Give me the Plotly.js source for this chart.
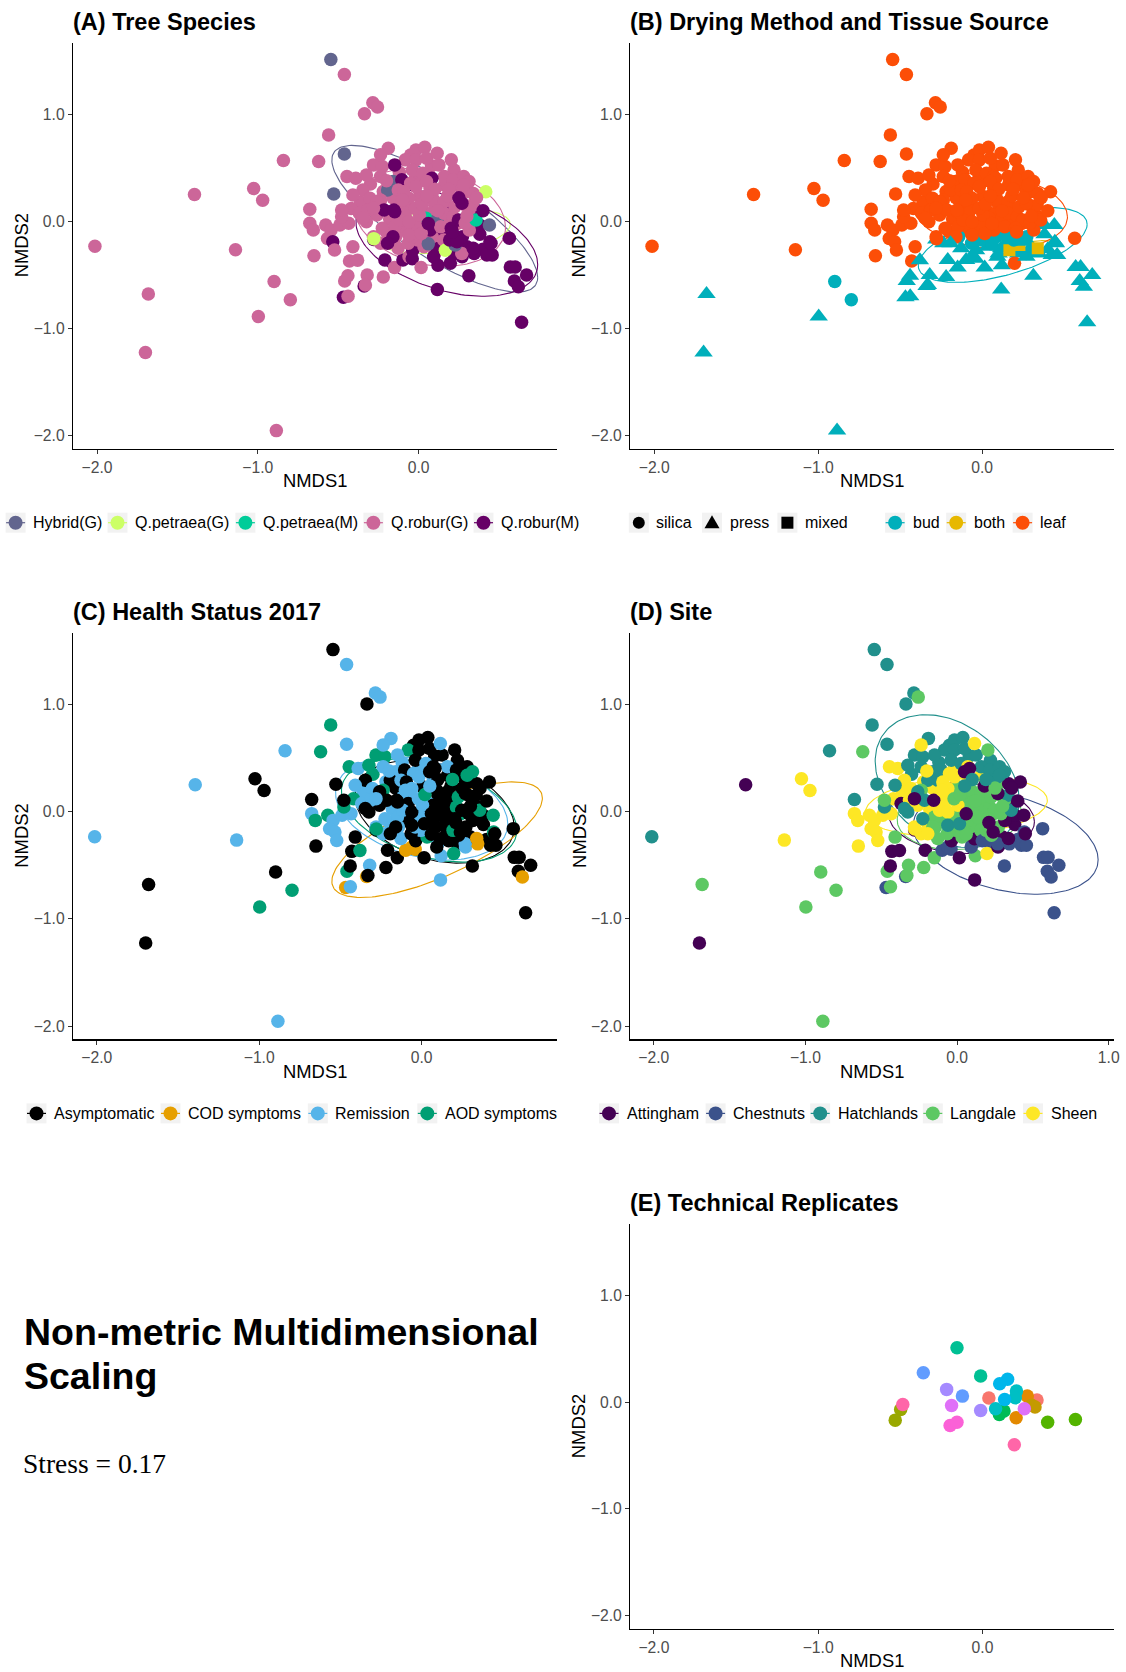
<!DOCTYPE html>
<html><head><meta charset="utf-8">
<script src="https://cdn.plot.ly/plotly-3.0.1.min.js"></script>
<style>html,body{margin:0;padding:0;background:#fff}#chart{width:1126px;height:1672px}</style>
</head><body><div id="chart"></div>
<script>
// ---------------- DATA ----------------
// NMDS ordination scores, one entry per sample (shared by panels A-D)
const nmds1 = [
 -0.30,-0.12,0.08,0.22,-0.05,0.16,-0.22,-0.02,0.30,0.10,0.20,0.28,0.04,-0.08,-0.18,-0.26,0.12,0.24,0.32,0.18,-0.10,0.00,0.07,0.38,0.15,0.02,-0.20,-0.36,-0.42,0.26,-0.16,0.34,0.22,0.40,0.10,
 -0.546,-0.462,-0.285,-0.256,-0.337,-0.560,-0.462,-0.841,-0.622,-1.394,-1.026,-0.970,-2.013,-1.139,-1.681,-1.699,-0.899,-0.798,-0.997,-0.885,
 0.640,0.671,0.564,0.570,0.600,0.595,0.620,0.424,0.457,0.312,0.116,0.443,
 -0.677,-0.677,-0.655,-0.651,-0.578,-0.545,-0.567,-0.534,-0.523,-0.490,-0.435,-0.446,-0.391,-0.347,-0.303,-0.528,-0.409,-0.479,-0.479,-0.409,-0.369,-0.430,-0.380,
 -0.460,-0.440,-0.468,-0.439,-0.339,-0.320,-0.220,-0.210,-0.150,-0.098,-0.060,-0.040,0.015,0.120,0.197,0.270,0.334,0.345,0.093,-0.331,
 -0.128,-0.037,0.033,0.115,0.300,0.085,0.156,0.238,0.268,-0.006,0.166,0.227,0.339,-0.280,-0.143,-0.065,0.060,0.193,0.272,0.238,0.450,0.379,0.440,0.340,0.315,
 -0.189,-0.017,0.038,-0.083,-0.017,-0.281,-0.226,-0.149,0.126,-0.325,-0.237,-0.160,-0.105,-0.039,0.026,0.159,0.214,0.280,0.313,-0.193,-0.127,0.049,0.280,0.203,-0.237,0.115,
 -0.237,-0.149,-0.160,-0.039,0.005,0.093,0.159,0.045,0.115,0.159,0.214,0.247,0.071,0.137,0.203,0.290,0.313,0.225,-0.039,-0.006,
 -0.050,-0.017,-0.094,-0.061,-0.116,-0.083,-0.116,-0.061,-0.149,0.005,0.071,0.071,-0.237,-0.193,-0.281,-0.314,
 -0.259,-0.215,-0.325,-0.226,-0.061,0.016,-0.347,0.335,0.357,
 0.082,0.049,-0.154,-0.281,0.417,0.269,-0.279,
 0.120,0.180,0.250,-0.020,0.060,0.300,0.210,0.100,-0.100,0.020,0.360,-0.200,0.190,0.400,0.050
];
const nmds2 = [
 0.35,0.46,0.52,0.48,0.62,0.34,0.28,0.40,0.28,0.15,0.10,0.16,0.08,0.14,0.02,0.06,-0.02,-0.02,-0.04,0.02,-0.08,0.00,0.06,-0.12,-0.12,-0.16,-0.10,0.18,0.12,0.32,0.22,0.26,-0.30,-0.26,-0.30,
 1.512,1.373,1.108,1.069,1.005,0.808,0.630,0.569,0.559,0.252,0.307,0.197,-0.233,-0.265,-0.679,-1.225,-0.562,-0.733,-0.889,-1.955,
 -0.943,-0.500,-0.158,-0.426,-0.426,-0.556,-0.610,-0.313,-0.313,-0.507,-0.636,-0.190,
 0.113,-0.018,-0.081,-0.321,-0.034,-0.081,-0.159,-0.190,-0.268,-0.034,-0.018,0.419,0.403,0.294,0.216,0.256,0.247,0.044,0.107,-0.237,0.076,-0.370,-0.362,
 -0.556,-0.507,-0.708,-0.700,-0.604,-0.500,-0.520,-0.360,-0.430,-0.360,-0.330,-0.350,-0.430,-0.410,-0.390,-0.330,-0.280,-0.300,-0.330,-0.595,
 -0.250,-0.270,-0.236,-0.252,-0.236,-0.143,-0.174,-0.174,-0.300,-0.174,-0.270,-0.220,-0.250,-0.170,-0.143,-0.205,-0.210,-0.174,-0.143,-0.190,-0.205,-0.034,-0.034,0.044,-0.081,
 0.684,0.668,0.693,0.575,0.575,0.528,0.512,0.528,0.528,0.434,0.419,0.372,0.388,0.481,0.450,0.419,0.388,0.419,0.372,0.294,0.294,0.590,0.341,0.575,0.622,0.637,
 0.200,-0.050,-0.143,-0.143,0.232,0.200,0.185,0.030,0.013,0.075,0.044,0.013,-0.081,-0.050,-0.065,-0.018,0.107,0.138,-0.034,-0.050,
 0.356,0.325,0.278,0.216,0.138,0.076,0.013,-0.003,0.091,0.060,0.310,0.419,-0.205,-0.205,-0.143,0.107,
 0.185,0.107,-0.003,-0.065,-0.127,-0.112,0.029,0.153,0.013,
 0.403,0.372,0.107,0.122,0.277,0.169,-0.161,
 0.100,0.240,0.220,0.120,-0.020,0.050,-0.100,0.300,0.200,0.160,0.220,0.380,0.300,0.100,0.240
];
// Tree species: H=Hybrid(G), PG=Q.petraea(G), PM=Q.petraea(M), RG=Q.robur(G), RM=Q.robur(M)
const species = [
 'RG','RG','RG','RG','RG','RG','RG','RG','RG','RG','RM','RG','RG','RG','RG','RG','RM','RG','RM','RG','RG','RG','RG','RM','RM','RG','RG','RG','RG','RG','RG','RG','RM','RM','RG',
 'H','RG','RG','RG','RG','RG','H','RG','RG','RG','RG','RG','RG','RG','RG','RG','RG','RG','RG','RG',
 'RM','RM','RM','RM','RM','RM','RM','RM','RM','RM','RM','RM',
 'RG','RG','RG','RG','RG','RG','RG','RM','RG','RG','RG','RG','RG','RG','RG','H','RG','RG','RG','RG','RG','RG','RG',
 'RG','RG','RM','RG','RM','RG','RG','RM','RG','RM','RG','RM','RG','RM','RM','RM','RM','RM','RM','RG',
 'RG','RM','RG','RM','RM','RG','RG','RM','RG','RG','PG','H','RM','RM','RG','RG','H','RM','RM','RM','RM','RM','H','RM','RG',
 'RG','RG','RG','RG','RG','RG','RG','RM','RG','RG','RG','H','RM','RG','RG','RG','RG','RG','RG','H','RG','RG','RG','RG','RG','RG',
 'RG','RG','RM','RG','RG','RG','RG','PM','H','RG','RG','RM','RM','RG','RM','RG','RG','RG','RG','RG',
 'RG','RG','RG','RG','RG','RG','RG','RG','RM','RG','RG','RG','RG','RM','RG','RG',
 'RG','RM','RG','RG','RG','RG','RG','RG','PM',
 'RM','RG','RM','RG','PG','RM','PG',
 'RG','RG','RM','RG','RM','RG','RM','RG','RG','RG','RG','RG','RG','RM','RG'
];
// Tissue source: b=bud, o=both, l=leaf
const tissue = [
 'l','l','l','l','l','l','l','l','l','l','l','l','l','l','l','l','l','l','l','l','l','l','l','b','b','b','l','l','l','l','l','l','b','b','b',
 'l','l','l','l','l','l','l','l','l','l','l','l','l','l','b','b','b','b','b','b',
 'b','b','l','b','b','b','b','b','b','b','b','b',
 'l','l','l','l','l','l','l','l','l','l','l','l','l','l','l','l','l','l','l','l','l','l','b',
 'b','b','b','b','b','b','b','b','b','b','b','b','b','b','l','b','b','b','b','b',
 'b','b','b','b','b','b','b','b','b','b','o','o','o','b','b','b','b','b','b','b','b','b','b','l','l',
 'l','l','l','l','l','l','l','l','l','l','l','l','l','l','l','l','l','l','l','l','l','l','l','l','l','l',
 'l','l','l','b','l','l','l','l','l','l','l','l','l','l','l','l','l','l','l','l',
 'l','l','l','l','l','l','l','l','l','l','l','l','b','b','l','l',
 'l','l','l','l','l','l','l','l','l',
 'l','l','l','l','l','l','l',
 'l','l','l','l','l','l','l','l','l','l','l','l','l','l','l'
];
// Drying method: s=silica, p=press, m=mixed
const drying = [
 's','s','s','s','s','s','s','s','s','s','s','s','s','s','s','s','s','s','s','s','s','s','s','p','s','s','s','s','s','s','s','s','p','p','p',
 's','s','s','s','s','s','s','s','s','s','s','s','s','s','p','p','s','s','p','p',
 'p','p','s','p','p','p','p','p','p','p','p','p',
 's','s','s','s','s','s','s','s','s','s','s','s','s','s','s','s','s','s','s','s','s','s','p',
 'p','p','p','p','p','p','p','p','p','p','p','p','p','p','s','p','p','p','p','p',
 'p','p','p','p','p','s','s','s','s','s','m','m','m','p','s','s','s','s','s','p','p','p','p','s','s',
 's','s','s','s','s','s','s','s','s','s','s','s','s','s','s','s','s','s','s','s','s','s','s','s','s','s',
 's','s','s','s','s','s','s','s','s','s','s','s','s','s','s','s','s','s','s','s',
 's','s','s','s','s','s','s','s','s','s','s','s','p','p','s','s',
 's','s','s','s','s','s','s','s','s',
 's','s','s','s','s','s','s',
 's','s','s','s','s','s','s','s','s','s','s','s','s','s','s'
];
// Health status 2017: A=Asymptomatic, C=COD symptoms, R=Remission, D=AOD symptoms
const health = [
 'D','R','A','A','A','A','R','R','A','A','A','A','R','R','R','A','A','D','A','A','A','A','A','A','A','R','R','R','D','A','A','A','A','A','R',
 'A','R','R','R','A','D','R','R','D','R','A','A','R','R','A','A','A','D','D','R',
 'A','A','A','A','A','A','C','A','A','A','R','D',
 'A','R','D','A','D','R','R','R','R','R','R','D','R','A','R','A','R','D','A','A','R','A','D',
 'D','A','C','R','C','R','A','A','A','C','C','C','A','R','D','R','C','C','A','A',
 'R','A','D','A','A','A','A','A','R','R','A','A','C','A','R','A','A','D','A','A','A','A','D','A','A',
 'R','A','A','D','A','D','D','R','A','D','R','R','A','A','R','R','A','A','D','A','R','A','D','A','R','R',
 'D','R','A','R','A','A','A','A','A','A','D','A','A','A','A','A','A','D','A','R',
 'R','R','A','R','R','A','R','A','A','R','R','A','R','A','R','R',
 'A','A','A','R','A','A','A','A','D',
 'A','A','A','R','A','A','D',
 'A','A','A','R','A','A','A','A','R','D','A','R','D','A','R'
];
// Site: At=Attingham, Ch=Chestnuts, Ha=Hatchlands, La=Langdale, Sh=Sheen
const site = [
 'Ha','Ha','Ha','Ha','Ha','Sh','Sh','Sh','La','La','La','La','La','Sh','Sh','Sh','La','La','At','La','La','La','La','At','La','La','Sh','Sh','Sh','Ha','Sh','At','Ch','Ch','Ch',
 'Ha','Ha','Ha','La','Ha','Ha','Ha','Ha','La','At','Sh','Sh','Ha','Sh','La','At','La','La','La','La',
 'Ch','Ch','Ch','Ch','Ch','Ch','Ch','Ch','Ch','Ch','At','Ch',
 'Ha','Sh','Sh','Sh','Sh','Sh','Sh','Sh','Sh','Sh','Sh','Sh','Sh','Sh','Sh','Ha','Ha','Ha','La','La','At','At','At',
 'La','At','Ch','La','Ch','La','La','At','La','Ch','Ch','Ch','At','La','Sh','At','Ch','Ch','Ch','La',
 'La','At','La','At','At','La','La','At','Ch','La','Ch','La','At','At','La','La','La','La','La','At','At','At','At','At','At',
 'Ha','Ha','Ha','Ha','Ha','Ha','Ha','Ha','Ha','Ha','Ha','Ha','Ha','Ha','Ha','Ha','Ha','Ha','Ha','Ha','Ha','Ha','Ha','La','Sh','Sh',
 'La','La','La','La','La','La','La','La','La','La','La','La','La','La','La','La','La','La','La','La',
 'Sh','Sh','Sh','Sh','Sh','Sh','Sh','Sh','Sh','Sh','Sh','Sh','Sh','Sh','Sh','Sh',
 'Ha','Ha','Ha','Ha','Ha','Ha','Ha','Ha','Ha',
 'At','At','At','At','At','At','Sh',
 'La','At','La','La','At','La','At','Ha','Sh','La','At','Sh','Ha','At','Ha'
];

// Category levels, legend labels, colours
const speciesCodes = ['H','PG','PM','RG','RM'];
const speciesLabels = ['Hybrid(G)','Q.petraea(G)','Q.petraea(M)','Q.robur(G)','Q.robur(M)'];
const speciesColors = ['#62658E','#CCFF66','#00CC99','#CC6699','#660066'];
const dryingCodes = ['s','p','m'];
const dryingLabels = ['silica','press','mixed'];
const dryingSymbols = ['circle','triangle-up','square'];
const tissueCodes = ['b','o','l'];
const tissueLabels = ['bud','both','leaf'];
const tissueColors = ['#00AFBB','#E7B800','#FC4E07'];
const healthCodes = ['A','C','R','D'];
const healthLabels = ['Asymptomatic','COD symptoms','Remission','AOD symptoms'];
const healthColors = ['#000000','#E69F00','#56B4E9','#009E73'];
const siteCodes = ['At','Ch','Ha','La','Sh'];
const siteLabels = ['Attingham','Chestnuts','Hatchlands','Langdale','Sheen'];
const siteColors = ['#440154','#3B528B','#21908C','#5DC863','#FDE725'];

// 95% ellipses: centre, half-extent in x / y, correlation
const ellA = {cx:[0.10,0.15,0.20,0.07,0.175], cy:[0.025,-0.09,0.025,0.04,-0.205], wx:[0.64,0.42,0.17,0.47,0.565], wy:[0.685,0.21,0.03,0.46,0.495], rho:[-0.80,0.30,0.5,-0.20,-0.40]};
const ellB = {cx:[0.125,0.30,0.05], cy:[-0.22,-0.23,0.095], wx:[0.515,0.14,0.47], wy:[0.35,0.05,0.355], rho:[0.55,0.5,-0.15]};
const ellC = {cx:[0.08,0.095,0.0,0.046], cy:[0.0,-0.261,0.03,0.01], wx:[0.49,0.648,0.53,0.54], wy:[0.48,0.539,0.48,0.48], rho:[-0.30,0.72,-0.30,-0.38]};
const ellD = {cx:[0.03,0.32,-0.065,0.015,-0.005], cy:[-0.06,-0.29,0.285,-0.045,0.05], wx:[0.48,0.61,0.475,0.41,0.60], wy:[0.33,0.48,0.62,0.31,0.28], rho:[-0.10,-0.33,-0.30,0.10,0.20]};

// Panel E: technical replicates
const repX = [0.039,0.332, 0.273,0.205, 0.300,0.320, -0.498,-0.531, 0.397,0.566, 0.103,0.131, -0.155,-0.011, 0.207,0.080,0.200, 0.153,0.105,0.135, -0.360,-0.122, -0.218,-0.011, 0.255,-0.188, -0.197,-0.155, -0.485,0.194];
const repY = [0.038,0.019, 0.056,-0.147, -0.030,-0.045, -0.069,-0.169, -0.188,-0.163, -0.116,-0.084, 0.509,0.244, 0.103,-0.063,0.040, 0.213,0.172,0.025, 0.275,0.056, 0.119,-0.078, -0.063,-0.031, -0.219,-0.188, -0.022,-0.400];
const repGroup = [0,0, 1,1, 2,2, 3,3, 4,4, 5,5, 6,6, 7,7,7, 8,8,8, 9,9, 10,10, 11,11, 12,12, 13,13];
const repColors = ['#F8766D','#E38900','#C49A00','#99A800','#53B400','#00BC56','#00C094','#00BFC4','#00B6EB','#619CFF','#A58AFF','#DF70F8','#FB61D7','#FF66A8'];

// ---------------- LAYOUT ----------------
const W = 1126, H = 1672;
const FONT = 'Liberation Sans, Arial, sans-serif';
const fx = p => p / W, fy = p => 1 - p / H;
const panel = {
  A:{ax:'', l:72.9, r:556.5, t:43, b:448.7, xr:[-2.15,0.857], title:'(A) Tree Species'},
  B:{ax:'2', l:630.1, r:1114.2, t:43, b:448.7, xr:[-2.147,0.805], title:'(B) Drying Method and Tissue Source'},
  C:{ax:'3', l:72.9, r:556.5, t:633, b:1039.4, xr:[-2.147,0.83], title:'(C) Health Status 2017'},
  D:{ax:'4', l:630.1, r:1114.2, t:633, b:1039.4, xr:[-2.156,1.036], title:'(D) Site'},
  E:{ax:'5', l:630.1, r:1114.2, t:1224, b:1629, xr:[-2.145,0.802], title:'(E) Technical Replicates'}
};
const yRange = [-2.124, 1.667];

const layout = {
  width: W, height: H, autosize: false,
  margin: {l:0, r:0, t:0, b:0, pad:0},
  paper_bgcolor: '#fff', plot_bgcolor: '#fff',
  showlegend: false,
  font: {family: FONT},
  annotations: [], shapes: []
};

function axisStyle(range, tv, tt) {
  return {range: range, showgrid: false, zeroline: false, showline: true, linecolor: '#000', linewidth: 1.1,
    ticks: 'outside', ticklen: 4, tickwidth: 1, tickcolor: '#333', tickvals: tv, ticktext: tt,
    tickfont: {family: FONT, size: 15.7, color: '#4D4D4D'}, fixedrange: true};
}
const ann = (o) => layout.annotations.push(Object.assign({xref:'paper', yref:'paper', showarrow:false}, o));

Object.keys(panel).forEach(k => {
  const p = panel[k];
  const xt = k === 'D' ? [-2,-1,0,1] : [-2,-1,0];
  const xl = k === 'D' ? ['\u22122.0','\u22121.0','0.0','1.0'] : ['\u22122.0','\u22121.0','0.0'];
  layout['xaxis' + p.ax] = Object.assign(axisStyle(p.xr, xt, xl), {domain:[fx(p.l), fx(p.r)], anchor:'y' + p.ax});
  layout['yaxis' + p.ax] = Object.assign(axisStyle(yRange, [-2,-1,0,1], ['\u22122.0','\u22121.0','0.0','1.0']), {domain:[fy(p.b), fy(p.t)], anchor:'x' + p.ax});
  ann({x: fx(p.l - 2), y: fy(p.t - 20.6), xanchor:'left', yanchor:'middle', text:'<b>' + p.title + '</b>', font:{family:FONT, size:23.5, color:'#000'}});
  ann({x: fx((p.l + p.r) / 2), y: fy(p.b + 31.7), xanchor:'center', yanchor:'middle', text:'NMDS1', font:{family:FONT, size:18.4, color:'#000'}});
  ann({x: fx(p.l - 51.4), y: fy((p.t + p.b) / 2), xanchor:'center', yanchor:'middle', text:'NMDS2', textangle:-90, font:{family:FONT, size:18.4, color:'#000'}});
});

// bottom-left text block
ann({x: fx(21.5), y: fy(1332), xanchor:'left', yanchor:'middle', text:'<b>Non-metric Multidimensional</b>', font:{family:FONT, size:37.5, color:'#000'}});
ann({x: fx(21.5), y: fy(1376), xanchor:'left', yanchor:'middle', text:'<b>Scaling</b>', font:{family:FONT, size:37.5, color:'#000'}});
ann({x: fx(20.5), y: fy(1463), xanchor:'left', yanchor:'middle', text:'Stress = 0.17', font:{family:'Liberation Serif, Times New Roman, serif', size:27.5, color:'#000'}});

// ---------------- TRACES ----------------
const traces = [];
function ellipseTrace(e, i, color, ax) {
  const xs = [], ys = [], s = Math.sqrt(1 - e.rho[i] * e.rho[i]);
  for (let j = 0; j <= 160; j++) {
    const t = 2 * Math.PI * j / 160;
    xs.push(e.cx[i] + e.wx[i] * Math.cos(t));
    ys.push(e.cy[i] + e.wy[i] * (e.rho[i] * Math.cos(t) + s * Math.sin(t)));
  }
  return {type:'scatter', mode:'lines', x:xs, y:ys, xaxis:'x' + ax, yaxis:'y' + ax, line:{color:color, width:1.1}, hoverinfo:'skip'};
}
const colorOf = (codes, colors) => v => colors[codes.indexOf(v)];
const MS = 13.5;

speciesCodes.forEach((c, i) => traces.push(ellipseTrace(ellA, i, speciesColors[i], '')));
traces.push({type:'scatter', mode:'markers', x:nmds1, y:nmds2, xaxis:'x', yaxis:'y',
  marker:{size:MS, opacity:1, color:species.map(colorOf(speciesCodes, speciesColors)), line:{width:0}}});
tissueCodes.forEach((c, i) => traces.push(ellipseTrace(ellB, i, tissueColors[i], '2')));
traces.push({type:'scatter', mode:'markers', x:nmds1, y:nmds2, xaxis:'x2', yaxis:'y2',
  marker:{size:drying.map(d => d === 'p' ? 16 : (d === 'm' ? 12 : MS)), opacity:1,
    symbol:drying.map(colorOf(dryingCodes, dryingSymbols)),
    color:tissue.map(colorOf(tissueCodes, tissueColors)), line:{width:0}}});
healthCodes.forEach((c, i) => traces.push(ellipseTrace(ellC, i, healthColors[i], '3')));
traces.push({type:'scatter', mode:'markers', x:nmds1, y:nmds2, xaxis:'x3', yaxis:'y3',
  marker:{size:MS, opacity:1, color:health.map(colorOf(healthCodes, healthColors)), line:{width:0}}});
siteCodes.forEach((c, i) => traces.push(ellipseTrace(ellD, i, siteColors[i], '4')));
traces.push({type:'scatter', mode:'markers', x:nmds1, y:nmds2, xaxis:'x4', yaxis:'y4',
  marker:{size:MS, opacity:1, color:site.map(colorOf(siteCodes, siteColors)), line:{width:0}}});
traces.push({type:'scatter', mode:'markers', x:repX, y:repY, xaxis:'x5', yaxis:'y5',
  marker:{size:MS, opacity:1, color:repGroup.map(g => repColors[g]), line:{width:0}}});

// ---------------- LEGENDS (drawn as layout items) ----------------
const KEY = 10, DOT = 7;
function keyBg(cx, cy) {
  layout.shapes.push({type:'rect', xref:'paper', yref:'paper', x0:fx(cx-KEY), x1:fx(cx+KEY), y0:fy(cy+KEY), y1:fy(cy-KEY), fillcolor:'#F2F2F2', line:{width:0}});
}
function keyLabel(cx, cy, text) {
  ann({x: fx(cx + 15.5), y: fy(cy), xanchor:'left', yanchor:'middle', text:text, font:{family:FONT, size:16, color:'#000'}});
}
function colourKey(cx, cy, color, text) {
  keyBg(cx, cy);
  layout.shapes.push({type:'line', xref:'paper', yref:'paper', x0:fx(cx-KEY+0.5), x1:fx(cx+KEY-0.5), y0:fy(cy), y1:fy(cy), line:{color:color, width:1.2}});
  layout.shapes.push({type:'circle', xref:'paper', yref:'paper', x0:fx(cx-DOT), x1:fx(cx+DOT), y0:fy(cy+DOT), y1:fy(cy-DOT), fillcolor:color, line:{width:0}});
  keyLabel(cx, cy, text);
}
function shapeKey(cx, cy, sym, text) {
  keyBg(cx, cy);
  if (sym === 'circle') {
    layout.shapes.push({type:'circle', xref:'paper', yref:'paper', x0:fx(cx-6), x1:fx(cx+6), y0:fy(cy+6), y1:fy(cy-6), fillcolor:'#000', line:{width:0}});
  } else if (sym === 'triangle-up') {
    const p = 'M' + fx(cx-7.5) + ',' + fy(cy+5.5) + ' L' + fx(cx+7.5) + ',' + fy(cy+5.5) + ' L' + fx(cx) + ',' + fy(cy-7.5) + ' Z';
    layout.shapes.push({type:'path', xref:'paper', yref:'paper', path:p, fillcolor:'#000', line:{width:0}});
  } else {
    layout.shapes.push({type:'rect', xref:'paper', yref:'paper', x0:fx(cx-6), x1:fx(cx+6), y0:fy(cy+6), y1:fy(cy-6), fillcolor:'#000', line:{width:0}});
  }
  keyLabel(cx, cy, text);
}
const legendRow1 = 522.7, legendRow2 = 1113.4;
const keyPosA = [15.6, 117.5, 245.4, 373.4, 483.5];
const keyPosBshape = [638.8, 712.0, 787.4];
const keyPosBcol = [895.1, 956.2, 1022.6];
const keyPosC = [36.5, 170.5, 317.8, 427.3];
const keyPosD = [609.0, 715.6, 820.2, 932.8, 1033.0];
speciesLabels.forEach((t, i) => colourKey(keyPosA[i], legendRow1, speciesColors[i], t));
dryingLabels.forEach((t, i) => shapeKey(keyPosBshape[i], legendRow1, dryingSymbols[i], t));
tissueLabels.forEach((t, i) => colourKey(keyPosBcol[i], legendRow1, tissueColors[i], t));
healthLabels.forEach((t, i) => colourKey(keyPosC[i], legendRow2, healthColors[i], t));
siteLabels.forEach((t, i) => colourKey(keyPosD[i], legendRow2, siteColors[i], t));

Plotly.newPlot('chart', traces, layout, {staticPlot: true, displayModeBar: false});
</script>
</body></html>
